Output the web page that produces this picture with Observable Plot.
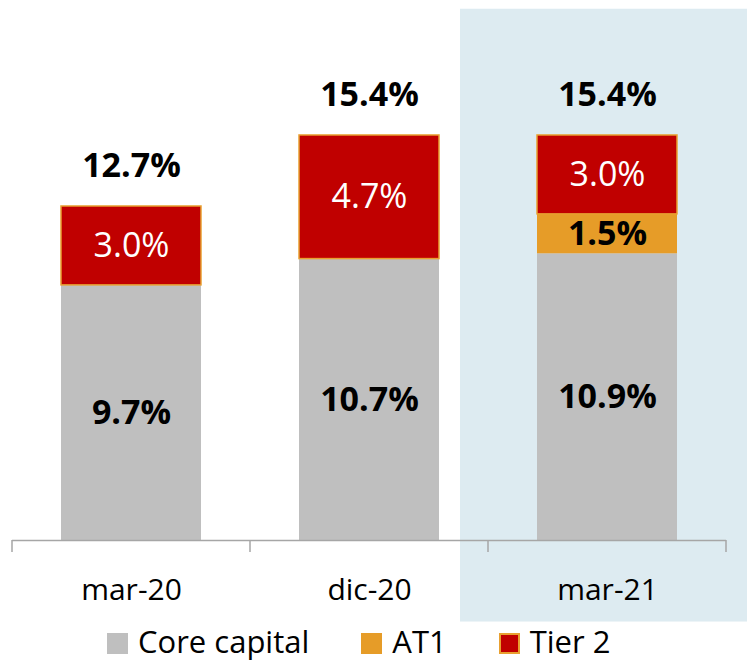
<!DOCTYPE html>
<html><head><meta charset="utf-8">
<script src="https://cdn.jsdelivr.net/npm/d3@7"></script>
<script src="https://cdn.jsdelivr.net/npm/@observablehq/plot@0.6"></script>
<style>
body{margin:0;background:#fff;font-family:"Open Sans",sans-serif;overflow:hidden;}
#chart svg{display:block;}
#legend{display:flex;align-items:center;height:42px;padding-left:107px;font-size:31px;color:#000;}
.item{display:flex;align-items:center;margin-right:52px;}
.sw{width:21px;height:21px;margin-right:10px;box-sizing:border-box;margin-top:4px;}
</style></head><body><div id="chart"></div><div id="legend"></div>
<script>
// ---- data ----
const dates = ["mar-20", "dic-20", "mar-21"];
const series = ["Core capital", "AT1", "Tier 2"];
const coreCapital = [9.7, 10.7, 10.9];
const at1 = [0, 0, 1.5];
const tier2 = [3.0, 4.7, 3.0];
const totals = [12.7, 15.4, 15.4];
const highlighted = "mar-21";

// ---- styles ----
const colors = ["#BFBFBF", "#E69C28", "#C00000"];
const tierStroke = "#E8A030";
const axisGray = "#A6A6A6";
const highlightFill = "#DDEBF1";

const rows = [];
dates.forEach((d, i) => {
  [coreCapital[i], at1[i], tier2[i]].forEach((v, j) => {
    if (v > 0) rows.push({date: d, series: series[j], value: v});
  });
});
const totalRows = dates.map((d, i) => ({date: d, total: totals[i]}));
const fmt = v => v.toFixed(1) + "%";

function bandTicks(index, scales, values, dims) {
  const x = scales.x;
  const bw = typeof x.bandwidth === "function" ? x.bandwidth() : x.bandwidth;
  const centers = dates.map(d => x(d) + bw / 2);
  const bounds = [dims.marginLeft, ...d3.pairs(centers).map(([a, b]) => (a + b) / 2), dims.width - dims.marginRight];
  const y0 = scales.y(0);
  const g = d3.create("svg:g");
  g.selectAll("line").data(bounds).join("line")
    .attr("x1", d => d).attr("x2", d => d)
    .attr("y1", y0).attr("y2", y0 + 12)
    .attr("stroke", axisGray).attr("stroke-width", 1.5);
  return g.node();
}

const chart = Plot.plot({
  width: 748,
  height: 620,
  marginLeft: 12,
  marginRight: 22,
  marginTop: 14,
  marginBottom: 80,
  style: {fontFamily: "Open Sans", overflow: "visible", background: "transparent"},
  x: {domain: dates, paddingInner: 0.41, paddingOuter: 0.205, axis: null},
  y: {domain: [0, 20], axis: null},
  color: {domain: series, range: colors},
  marks: [
    Plot.barY([highlighted], {x: d => d, y1: -3.1, y2: 20.2, fill: highlightFill, insetLeft: -77, insetRight: -70}),
    Plot.barY(rows, Plot.stackY({x: "date", y: "value", z: "series", fill: "series", order: series,
      stroke: d => d.series === "Tier 2" ? tierStroke : "none", strokeWidth: 1.5})),
    Plot.ruleY([0], {stroke: axisGray, strokeWidth: 1.5}),
    bandTicks,
    Plot.axisX({tickSize: 0, tickPadding: 38, fontSize: 30, fill: "#000", color: "#000", label: null}),
    Plot.text(rows, Plot.stackY({x: "date", y: "value", z: "series", order: series,
      text: d => d.series !== "Tier 2" ? fmt(d.value) : "",
      fill: "#000", fontWeight: "bold", fontSize: 34})),
    Plot.text(rows, Plot.stackY({x: "date", y: "value", z: "series", order: series,
      text: d => d.series === "Tier 2" ? fmt(d.value) : "",
      fill: "#fff", fontSize: 34})),
    Plot.text(totalRows, {x: "date", y: "total", text: d => fmt(d.total), dy: -40,
      fill: "#000", fontWeight: "bold", fontSize: 34})
  ]
});
document.getElementById("chart").appendChild(chart);

const legend = document.getElementById("legend");
series.forEach((s, i) => {
  const item = document.createElement("div");
  item.className = "item";
  const sw = document.createElement("div");
  sw.className = "sw";
  sw.style.background = colors[i];
  if (s === "Tier 2") sw.style.border = "2px solid " + tierStroke;
  const label = document.createElement("span");
  label.textContent = s;
  item.appendChild(sw);
  item.appendChild(label);
  legend.appendChild(item);
});
</script></body></html>
